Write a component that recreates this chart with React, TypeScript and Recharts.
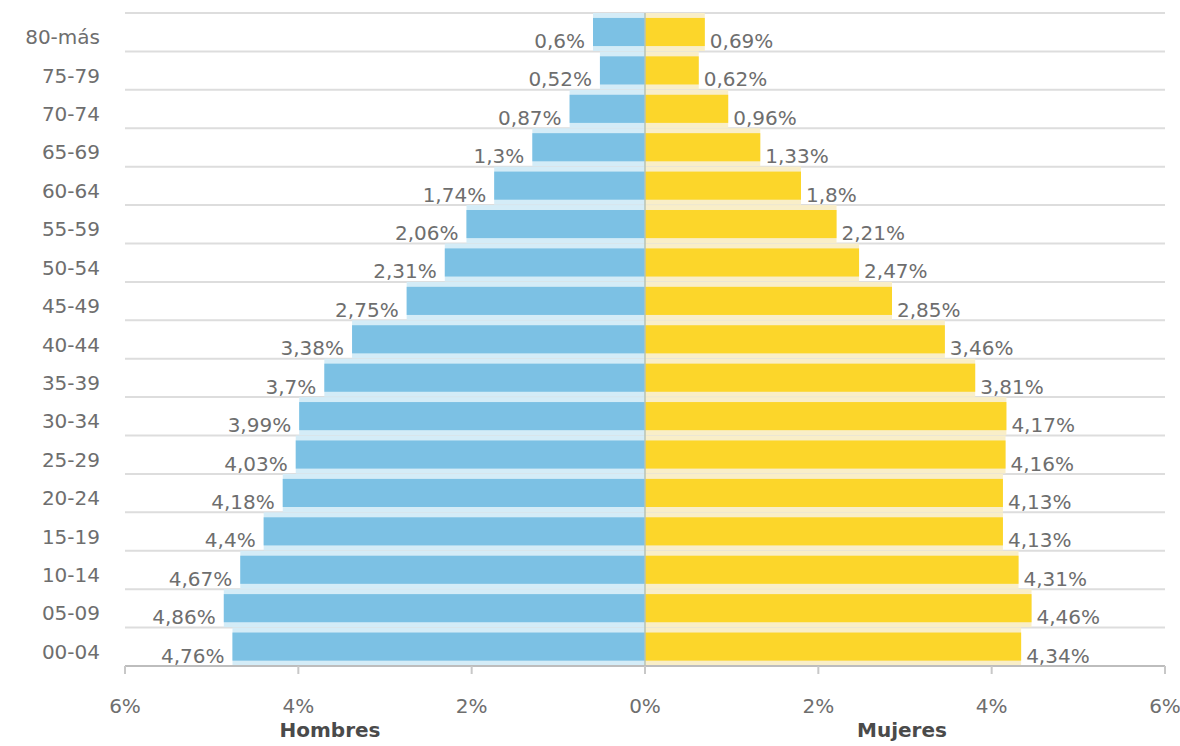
import React from 'react';
import {
  BarChart,
  Bar,
  XAxis,
  YAxis,
  CartesianGrid,
  LabelList,
  ReferenceLine,
} from 'recharts';

const categories = [
  '80-más', '75-79', '70-74', '65-69', '60-64', '55-59', '50-54', '45-49',
  '40-44', '35-39', '30-34', '25-29', '20-24', '15-19', '10-14', '05-09', '00-04',
];
const hombres = [0.6, 0.52, 0.87, 1.3, 1.74, 2.06, 2.31, 2.75, 3.38, 3.7, 3.99, 4.03, 4.18, 4.4, 4.67, 4.86, 4.76];
const mujeres = [0.69, 0.62, 0.96, 1.33, 1.8, 2.21, 2.47, 2.85, 3.46, 3.81, 4.17, 4.16, 4.13, 4.13, 4.31, 4.46, 4.34];
const xTicks = [-6, -4, -2, 0, 2, 4, 6];
const sideLabels = ['Hombres', 'Mujeres'];

const data = categories.map((grupo, i) => ({
  grupo,
  hombres: -hombres[i],
  mujeres: mujeres[i],
}));

const FONT = '"DejaVu Sans", Verdana, sans-serif';
const BLUE = '#7cc1e4';
const BLUE_PALE = '#d4ecf7';
const YELLOW = '#fcd62a';
const YELLOW_PALE = '#f9eec8';
const TEXT = '#6e6e6e';

const fmt = (v: number) => String(Math.abs(v)).replace('.', ',') + '%';

const makeShape = (solid: string, pale: string) => (props: any) => {
  const { x, y, width, height } = props;
  if (width == null || height == null) return <g />;
  const left = Math.min(x, x + width);
  const w = Math.abs(width);
  const inset = height * 0.13;
  return (
    <g>
      <rect x={left} y={y} width={w} height={height} fill={pale} />
      <rect x={left} y={y + inset} width={w} height={height - 2 * inset} fill={solid} />
    </g>
  );
};

const makeLabel = (side: 'left' | 'right') => (props: any) => {
  const { x, y, width, height, value } = props;
  if (value == null) return null;
  const left = Math.min(x, x + width);
  const right = Math.max(x, x + width);
  const cy = y + height / 2 + 9;
  return (
    <text
      x={side === 'left' ? left - 8 : right + 5}
      y={cy}
      textAnchor={side === 'left' ? 'end' : 'start'}
      dominantBaseline="central"
      fontFamily={FONT}
      fontSize={20}
      fill={TEXT}
    >
      {fmt(value)}
    </text>
  );
};

const YTick = (props: any) => {
  const { x, y, payload } = props;
  return (
    <text
      x={x}
      y={y + 5}
      textAnchor="end"
      dominantBaseline="central"
      fontFamily={FONT}
      fontSize={20}
      fill={TEXT}
    >
      {payload.value}
    </text>
  );
};

const XTick = (props: any) => {
  const { x, y, payload } = props;
  return (
    <text
      x={x}
      y={y + 32}
      textAnchor="middle"
      dominantBaseline="central"
      fontFamily={FONT}
      fontSize={20}
      fill={TEXT}
    >
      {Math.abs(payload.value) + '%'}
    </text>
  );
};

export default function App() {
  return (
    <div style={{ position: 'absolute', left: 0, top: 0, width: 1180, height: 746, background: '#fff' }}>
      <BarChart
        width={1180}
        height={746}
        data={data}
        layout="vertical"
        stackOffset="sign"
        barCategoryGap={0}
        margin={{ top: 13, right: 15, bottom: 0, left: 0 }}
      >
        <CartesianGrid
          vertical={false}
          stroke="#dddddd"
          strokeWidth={2}
          horizontalCoordinatesGenerator={({ offset }: any) =>
            Array.from({ length: categories.length + 1 }, (_, i) => offset.top + (i * offset.height) / categories.length)
          }
        />
        <XAxis
          type="number"
          domain={[-6, 6]}
          ticks={xTicks}
          height={80}
          axisLine={{ stroke: '#bdbdbd', strokeWidth: 2 }}
          tickLine={{ stroke: '#c8c8c8', strokeWidth: 2 }}
          tickSize={8}
          tickMargin={0}
          tick={<XTick />}
          interval={0}
        />
        <YAxis
          type="category"
          dataKey="grupo"
          width={125}
          axisLine={false}
          tickLine={false}
          tickSize={0}
          tickMargin={25}
          tick={<YTick />}
          interval={0}
        />
        <Bar dataKey="hombres" stackId="p" isAnimationActive={false} shape={makeShape(BLUE, BLUE_PALE)}>
          <LabelList dataKey="hombres" content={makeLabel('left')} />
        </Bar>
        <Bar dataKey="mujeres" stackId="p" isAnimationActive={false} shape={makeShape(YELLOW, YELLOW_PALE)}>
          <LabelList dataKey="mujeres" content={makeLabel('right')} />
        </Bar>
        <ReferenceLine x={0} stroke="#b9c3b4" strokeWidth={1.5} />
      </BarChart>
      <div
        style={{
          position: 'absolute',
          left: 330,
          top: 730,
          transform: 'translate(-50%, -50%)',
          fontFamily: FONT,
          fontWeight: 'bold',
          fontSize: 20,
          color: '#4a4a4a',
          whiteSpace: 'nowrap',
        }}
      >
        {sideLabels[0]}
      </div>
      <div
        style={{
          position: 'absolute',
          left: 902,
          top: 730,
          transform: 'translate(-50%, -50%)',
          fontFamily: FONT,
          fontWeight: 'bold',
          fontSize: 20,
          color: '#4a4a4a',
          whiteSpace: 'nowrap',
        }}
      >
        {sideLabels[1]}
      </div>
    </div>
  );
}
